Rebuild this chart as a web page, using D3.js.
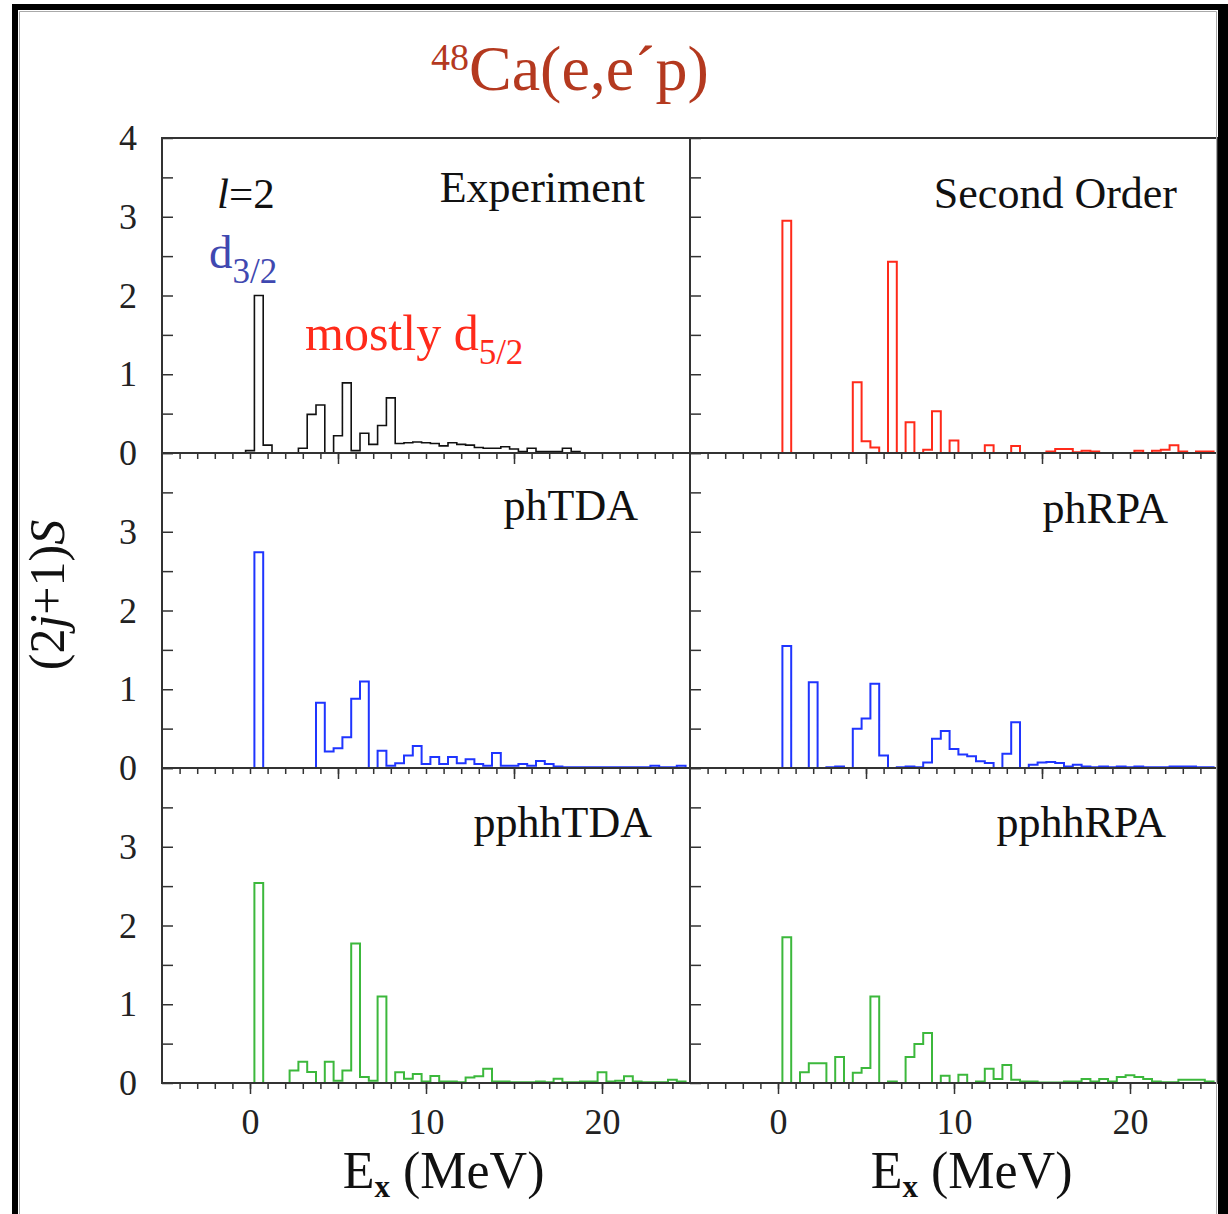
<!DOCTYPE html>
<html>
<head>
<meta charset="utf-8">
<script src="https://cdn.jsdelivr.net/npm/d3@7"></script>
<style>
  body { margin: 0; background: #fff; }
  svg { display: block; }
  text { font-family: "Liberation Serif", "Times New Roman", serif; }
</style>
</head>
<body>
<svg id="chart" width="1228" height="1214"></svg>
<script>
// Bin centers (MeV), 0.5 MeV wide bins
const binCenters = [
  0, 0.5, 1, 1.5, 2, 2.5, 3, 3.5, 4, 4.5, 5, 5.5, 6, 6.5, 7, 7.5, 8, 8.5, 9, 9.5,
  10, 10.5, 11, 11.5, 12, 12.5, 13, 13.5, 14, 14.5, 15, 15.5, 16, 16.5, 17, 17.5, 18, 18.5, 19, 19.5,
  20, 20.5, 21, 21.5, 22, 22.5, 23, 23.5, 24, 24.5
];

// (2j+1)S per bin
const experiment = [
  0.03, 2.0, 0.1, 0, 0, 0, 0.06, 0.49, 0.61, 0, 0.22, 0.89, 0.03, 0.25, 0.11, 0.35, 0.7, 0.12, 0.13, 0.14,
  0.13, 0.12, 0.09, 0.13, 0.11, 0.1, 0.07, 0.06, 0.06, 0.08, 0.05, 0.02, 0.06, 0.02, 0.02, 0.02, 0.06, 0.02, 0, 0,
  0, 0, 0, 0, 0, 0, 0, 0, 0, 0
];
const secondOrder = [
  0, 2.95, 0, 0, 0, 0, 0, 0, 0, 0.9, 0.15, 0.07, 0, 2.43, 0, 0.39, 0, 0.04, 0.53, 0,
  0.16, 0, 0, 0, 0.1, 0, 0, 0.09, 0, 0, 0, 0.02, 0.05, 0.05, 0.01, 0.03, 0.02, 0, 0, 0,
  0, 0.03, 0, 0.03, 0.04, 0.1, 0.02, 0, 0.02, 0.02
];
const phTDA = [
  0, 2.74, 0, 0, 0, 0, 0, 0, 0.83, 0.21, 0.25, 0.39, 0.88, 1.1, 0, 0.22, 0.03, 0.06, 0.16, 0.28,
  0.05, 0.14, 0.05, 0.14, 0.06, 0.11, 0.05, 0.03, 0.19, 0.03, 0.03, 0.05, 0.03, 0.09, 0.05, 0.02, 0.01, 0.01, 0.01, 0.01,
  0.01, 0.01, 0.01, 0.01, 0.01, 0.01, 0.03, 0.01, 0.01, 0.03
];
const phRPA = [
  0, 1.55, 0, 0, 1.09, 0, 0.01, 0.02, 0, 0.5, 0.63, 1.07, 0.16, 0, 0.01, 0.02, 0.01, 0.07, 0.37, 0.47,
  0.24, 0.17, 0.15, 0.085, 0.065, 0, 0.18, 0.58, 0, 0.04, 0.07, 0.075, 0.065, 0.02, 0.04, 0.02, 0.01, 0.02, 0.01, 0.02,
  0.01, 0.02, 0.01, 0.01, 0.01, 0.02, 0.02, 0.02, 0.01, 0.01
];
const pphhTDA = [
  0, 2.54, 0, 0, 0, 0.16, 0.27, 0.14, 0, 0.27, 0.03, 0.16, 1.77, 0.075, 0.03, 1.1, 0, 0.135, 0.055, 0.115,
  0.02, 0.09, 0.02, 0.02, 0.01, 0.07, 0.085, 0.18, 0.02, 0.02, 0.01, 0.01, 0.01, 0.02, 0.01, 0.055, 0.01, 0.01, 0.02, 0.02,
  0.135, 0.02, 0.03, 0.085, 0.02, 0.01, 0.01, 0.01, 0.04, 0.02
];
const pphhRPA = [
  0, 1.85, 0, 0.135, 0.25, 0.25, 0, 0.33, 0, 0.13, 0.19, 1.1, 0, 0.02, 0, 0.33, 0.495, 0.635, 0, 0.093,
  0, 0.105, 0, 0.02, 0.18, 0.05, 0.23, 0.04, 0.02, 0.02, 0.005, 0.005, 0.005, 0.02, 0.02, 0.05, 0.02, 0.05, 0.02, 0.075,
  0.1, 0.075, 0.05, 0.02, 0.01, 0.01, 0.04, 0.04, 0.04, 0.02
];

const panelNames = ["Experiment", "Second Order", "phTDA", "phRPA", "pphhTDA", "pphhRPA"];
const panelSeries = [experiment, secondOrder, phTDA, phRPA, pphhTDA, pphhRPA];
const panelColors = ["#111111", "#ff2a1a", "#1f35ff", "#1f35ff", "#3cb83c", "#3cb83c"];

const xTickLabels = [0, 10, 20];
const xMinorTicks = d3.range(-4, 25);
const xMidTicks = [5, 15];
const yTicks = [0, 0.5, 1, 1.5, 2, 2.5, 3, 3.5, 4];
const yTickLabelsTop = [0, 1, 2, 3, 4];
const yTickLabelsOther = [0, 1, 2, 3];

// layout
const colX = [[162, 690], [690, 1218]];
const rowTop = [138, 453, 768];
const rowH = 315;
const labelPos = [[45, 64], [41, 70], [52, 67], [50, 70], [38, 69], [52, 69]];
const binWidth = 0.5;
const serif = '"Liberation Serif", "Times New Roman", serif';

const svg = d3.select("#chart");
svg.append("rect").attr("width", 1228).attr("height", 1214).attr("fill", "#fff");

const xScales = colX.map(r => d3.scaleLinear().domain([-5, 25]).range(r));
const yScales = rowTop.map(t => d3.scaleLinear().domain([0, 4]).range([t + rowH, t]));

const step = d3.line()
  .x(d => d[0])
  .y(d => d[1])
  .curve(d3.curveStepAfter);

panelSeries.forEach((vals, i) => {
  const col = i % 2, row = Math.floor(i / 2);
  const x = xScales[col], y = yScales[row];
  const pts = [[x(binCenters[0] - binWidth / 2), y(0)]];
  vals.forEach((v, k) => pts.push([x(binCenters[k] - binWidth / 2), y(v)]));
  const last = binCenters[binCenters.length - 1] + binWidth / 2;
  pts.push([x(last), y(0)]);
  svg.append("path")
    .attr("d", step(pts))
    .attr("fill", "none")
    .attr("stroke", panelColors[i])
    .attr("stroke-width", i === 0 ? 1.6 : 2);

  // panel name
  svg.append("text")
    .attr("x", colX[col][1] - labelPos[i][0])
    .attr("y", rowTop[row] + labelPos[i][1])
    .attr("text-anchor", "end")
    .attr("font-size", 44)
    .attr("fill", "#111")
    .text(panelNames[i]);
});

function styleAxis(g) {
  g.select(".domain").remove();
  g.selectAll(".tick line").attr("stroke", "#333").attr("stroke-width", 1.5);
}

// y ticks (inward) and labels
rowTop.forEach((t, row) => {
  colX.forEach(r => {
    svg.append("g")
      .attr("transform", `translate(${r[0]},0)`)
      .call(d3.axisRight(yScales[row]).tickValues(yTicks).tickSize(11).tickFormat(""))
      .call(styleAxis);
  });
  svg.append("g")
    .attr("transform", `translate(${colX[0][0]},0)`)
    .call(d3.axisLeft(yScales[row])
      .tickValues(row === 0 ? yTickLabelsTop : yTickLabelsOther)
      .tickSize(0).tickPadding(25).tickFormat(d3.format("d")))
    .call(g => g.select(".domain").remove())
    .call(g => g.selectAll("text")
      .attr("font-size", 36)
      .attr("font-family", serif)
      .attr("fill", "#222"));
});

// x ticks on row boundaries (pointing down) and bottom axis
[rowTop[1], rowTop[2]].forEach(yy => {
  xScales.forEach(x => {
    svg.append("g").attr("transform", `translate(0,${yy})`)
      .call(d3.axisBottom(x).tickValues(xMinorTicks).tickSize(6).tickFormat(""))
      .call(styleAxis);
    svg.append("g").attr("transform", `translate(0,${yy})`)
      .call(d3.axisBottom(x).tickValues(xMidTicks).tickSize(11).tickFormat(""))
      .call(styleAxis);
  });
});

const bottomY = rowTop[2] + rowH;
xScales.forEach(x => {
  svg.append("g").attr("transform", `translate(0,${bottomY})`)
    .call(d3.axisBottom(x).tickValues(xMinorTicks).tickSize(6).tickFormat(""))
    .call(styleAxis);
  svg.append("g").attr("transform", `translate(0,${bottomY})`)
    .call(d3.axisBottom(x).tickValues(xTickLabels).tickSize(11).tickPadding(14))
    .call(styleAxis)
    .call(g => g.selectAll("text")
      .attr("font-size", 36)
      .attr("font-family", serif)
      .attr("fill", "#222"));

  const lab = svg.append("text")
    .attr("x", x(11))
    .attr("y", 1188)
    .attr("text-anchor", "middle")
    .attr("font-size", 52)
    .attr("fill", "#111");
  lab.append("tspan").text("E");
  lab.append("tspan").attr("font-size", 31).attr("font-weight", "bold").attr("dy", 9).text("x");
  lab.append("tspan").attr("dy", -9).text(" (MeV)");
});

// panel frames
rowTop.forEach(t => {
  colX.forEach(r => {
    svg.append("rect")
      .attr("x", r[0]).attr("y", t)
      .attr("width", r[1] - r[0]).attr("height", rowH)
      .attr("fill", "none")
      .attr("stroke", "#333")
      .attr("stroke-width", 2);
  });
});

// y axis title
const yt = svg.append("text")
  .attr("transform", "translate(64,595) rotate(-90)")
  .attr("text-anchor", "middle")
  .attr("font-size", 50)
  .attr("fill", "#111");
yt.append("tspan").text("(2");
yt.append("tspan").attr("font-style", "italic").text("j");
yt.append("tspan").text("+1)");
yt.append("tspan").attr("font-style", "italic").text("S");

// title
const title = svg.append("text")
  .attr("x", 431).attr("y", 90)
  .attr("font-size", 64)
  .attr("fill", "#b4391f");
title.append("tspan").attr("font-size", 38).attr("dy", -20).text("48");
title.append("tspan").attr("dy", 20).text("Ca(e,e\u00b4p)");

// annotations in the experiment panel
const lEq = svg.append("text")
  .attr("x", 217).attr("y", 208)
  .attr("font-size", 43)
  .attr("fill", "#111");
lEq.append("tspan").attr("font-style", "italic").text("l");
lEq.append("tspan").text("=2");

const d32 = svg.append("text")
  .attr("x", 209).attr("y", 268)
  .attr("font-size", 47)
  .attr("fill", "#3f48b0");
d32.append("tspan").text("d");
d32.append("tspan").attr("font-size", 35).attr("dy", 15).text("3/2");

const d52 = svg.append("text")
  .attr("x", 305).attr("y", 350)
  .attr("font-size", 50)
  .attr("fill", "#ff2a1a");
d52.append("tspan").text("mostly d");
d52.append("tspan").attr("font-size", 35).attr("dy", 14).text("5/2");

// outer black frame
svg.append("rect").attr("x", 12).attr("y", 4).attr("width", 1216).attr("height", 6).attr("fill", "#000");
svg.append("rect").attr("x", 12).attr("y", 4).attr("width", 6).attr("height", 1210).attr("fill", "#000");
svg.append("rect").attr("x", 1218).attr("y", 4).attr("width", 10).attr("height", 1210).attr("fill", "#000");
svg.append("path")
  .attr("d", "M19.5,1214V11.5H1216.5V1214")
  .attr("fill", "none")
  .attr("stroke", "#aaa")
  .attr("stroke-width", 1);
</script>
</body>
</html>
